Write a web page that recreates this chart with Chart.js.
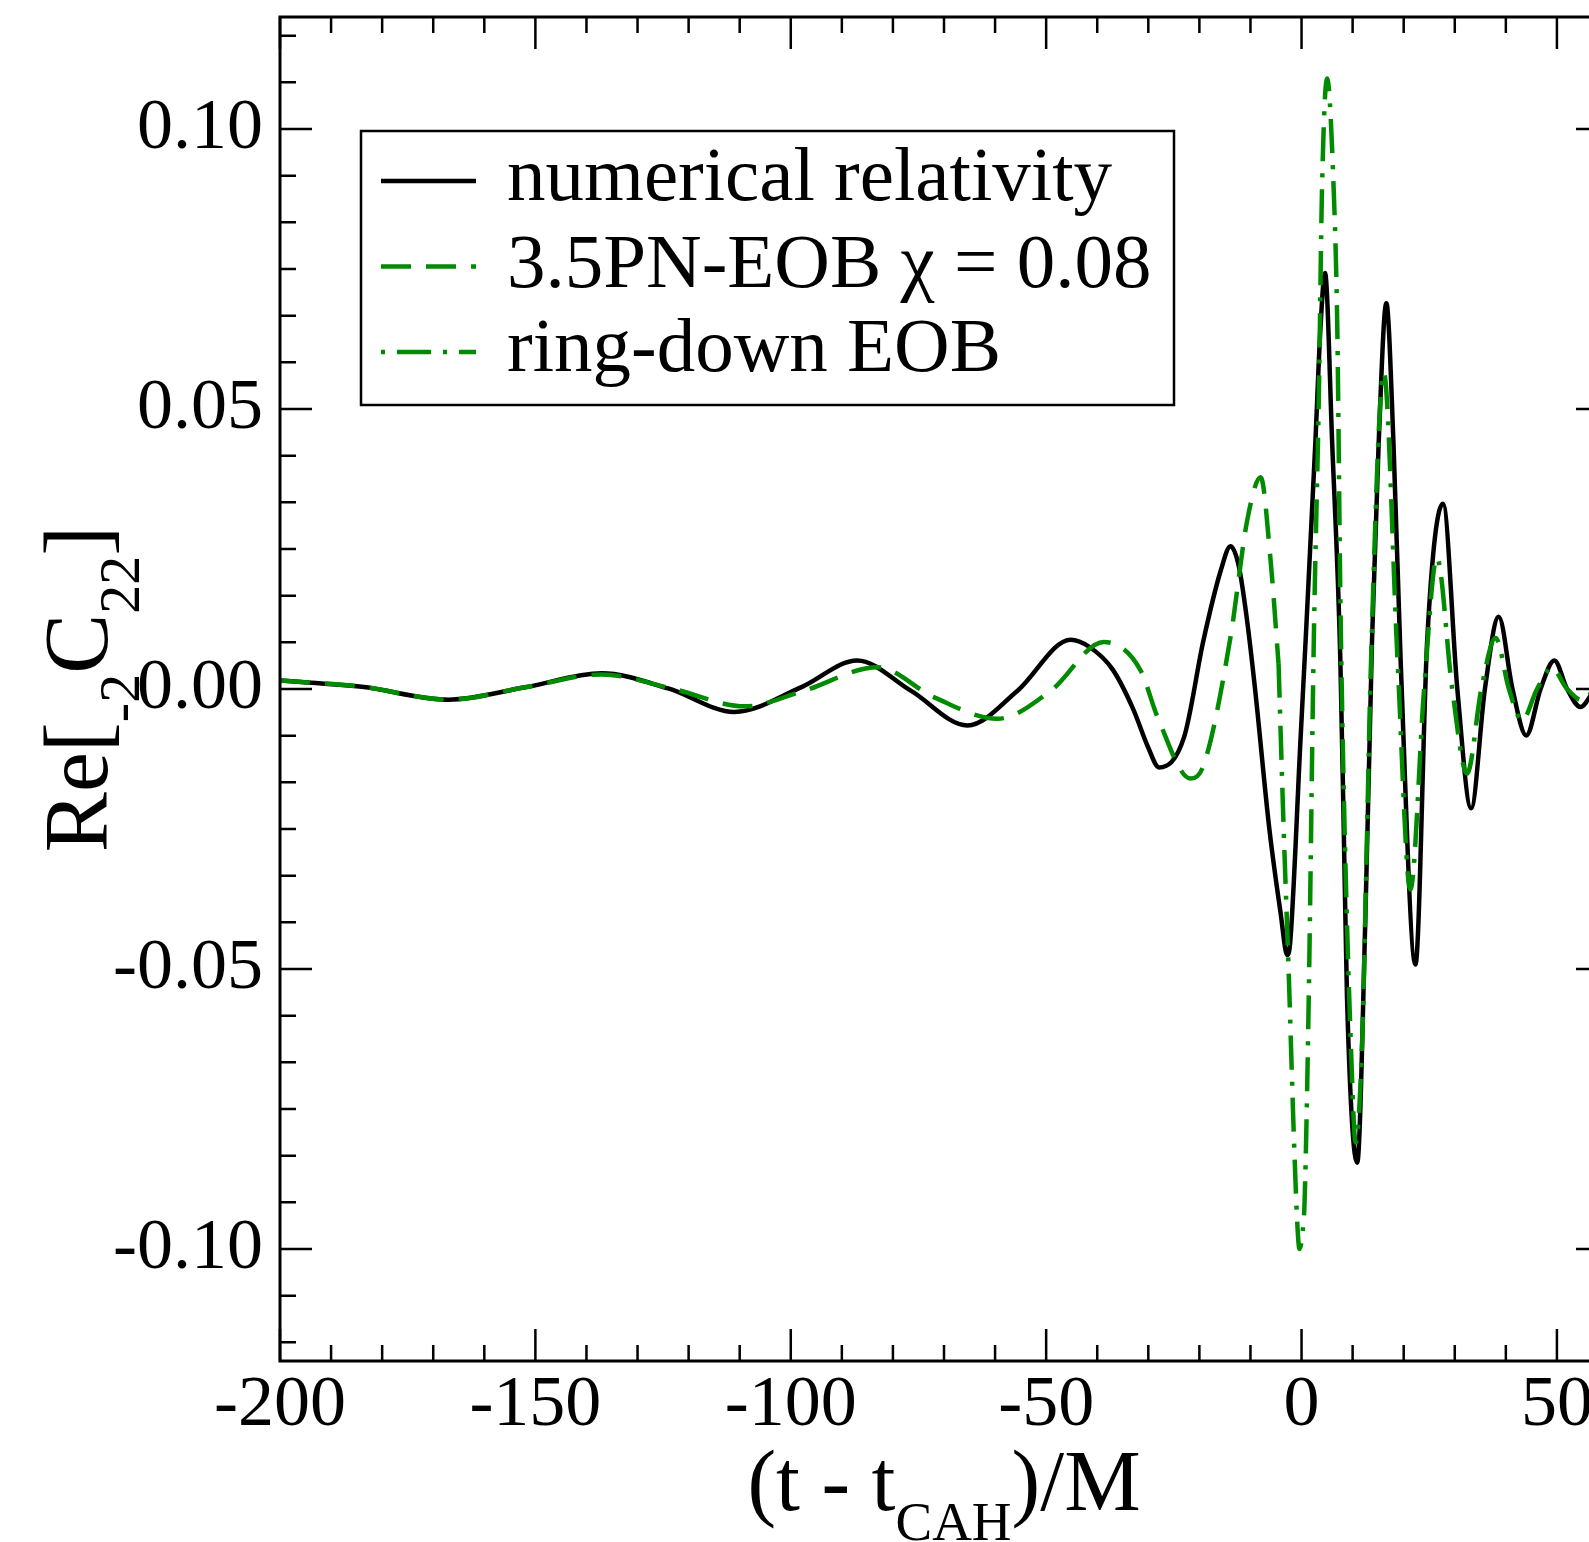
<!DOCTYPE html>
<html>
<head>
<meta charset="utf-8">
<script src="https://cdn.jsdelivr.net/npm/chart.js@4.4.0/dist/chart.umd.min.js"></script>
<style>
  html, body { margin: 0; padding: 0; background: #fff; overflow: hidden; }
  #wrap { position: absolute; left: 0; top: 0; width: 1620px; height: 1542px; }
</style>
</head>
<body>
<div id="wrap"><canvas id="myChart" width="1620" height="1542"></canvas></div>
<script>
// values

// numerical relativity (black, solid)
var nrT = [-200, -184, -167, -152, -137, -124, -111, -98, -87, -76.5, -65.4, -55.6, -45.2, -41.5, -37.0, -33.0, -30.0, -27.9, -23.0, -19.2, -15.8, -13.9, -12.3, -10.7, -9.1, -6.3, -4.1, -2.8, -2.2, -0.2, 0.8, 2.7, 3.7, 4.6, 6.0, 7.6, 8.3, 8.9, 10.9, 12.5, 13.8, 15.1, 16.6, 18.0, 19.4, 22.3, 24.6, 27.7, 30.5, 33.2, 35.9, 38.6, 41.3, 44.0, 46.8, 49.5, 52.0, 54.6, 57.5, 60];
var nrV = [0.0015, 0.0004, -0.0019, 0.0003, 0.0028, 0.0001, -0.0041, 0.0003, 0.0051, -0.0003, -0.0065, -0.0003, 0.0088, 0.0075, 0.0035, -0.0035, -0.0105, -0.0140, -0.0086, 0.0087, 0.0212, 0.0255, 0.0220, 0.0125, 0.0, -0.0250, -0.0400, -0.0475, -0.0450, -0.0090, 0.0087, 0.0439, 0.0644, 0.0743, 0.0439, 0.0051, -0.0267, -0.0550, -0.0846, -0.0408, 0.0087, 0.0439, 0.0689, 0.0439, 0.0051, -0.0492, 0.0087, 0.0331, 0.0, -0.0213, 0.0, 0.0129, 0.0, -0.0083, 0.0, 0.0051, 0.0, -0.0032, 0.0, 0.0020];

// 3.5PN-EOB (green, dashed)
var eobT = [-200, -184, -167, -152, -137, -123, -109, -97.4, -83.0, -71.9, -59.5, -49.1, -38.7, -31.5, -28.2, -21.7, -19.1, -13.9, -10.6, -8.0, -6.1, -4.5];
var eobV = [0.0015, 0.0004, -0.0019, 0.0003, 0.0026, 0.0, -0.0031, -0.0003, 0.0039, -0.0015, -0.0053, -0.0003, 0.0084, 0.0033, -0.0050, -0.0160, -0.0134, 0.0093, 0.0303, 0.0378, 0.0234, 0.0045];

// ring-down EOB (green, dash-dot)
var rdT = [-4.5, -3.5, -2.5, -1.5, -0.8, -0.4, 0.2, 0.6, 1.4, 2.4, 3.4, 4.0, 5.0, 6.3, 7.0, 7.6, 8.3, 9.6, 10.6, 11.9, 12.8, 13.5, 16.1, 18.8, 21.3, 24.0, 26.5, 29.5, 32.4, 35.2, 38.0, 40.6, 43.2, 46.1, 49.0, 52.0, 54.9, 57.5, 60];
var rdV = [0.0045, -0.0250, -0.0510, -0.0800, -0.0960, -0.1000, -0.0970, -0.0914, -0.0557, 0.0087, 0.0530, 0.0890, 0.1090, 0.0890, 0.0644, 0.0165, -0.0196, -0.0620, -0.0810, -0.0620, -0.0267, 0.0016, 0.0565, 0.0050, -0.0358, 0.0, 0.0234, 0.0, -0.0151, 0.0, 0.0091, 0.0, -0.0056, 0.0, 0.0037, 0.0, -0.0020, 0.0, 0.0012];

var seriesLabels = ["numerical relativity", "3.5PN-EOB \u03c7 = 0.08", "ring-down EOB"];
var xTicks = [-200, -150, -100, -50, 0, 50];
var yTicks = [-0.10, -0.05, 0.00, 0.05, 0.10];

var green = "rgb(0,139,0)";
var serif = '"Liberation Serif", "Times New Roman", serif';

function pts(t, v) {
  return t.map(function (x, i) { return { x: x, y: v[i] }; });
}

// box + inward ticks on all four sides
var framePlugin = {
  id: 'frame',
  afterDraw: function (chart) {
    var ctx = chart.ctx, a = chart.chartArea;
    var xs = chart.scales.x, ys = chart.scales.y;
    ctx.save();
    ctx.strokeStyle = '#000';
    ctx.lineWidth = 3;
    ctx.strokeRect(a.left, a.top, a.right - a.left, a.bottom - a.top);
    ctx.lineWidth = 2.5;
    ctx.beginPath();
    for (var k = -20; k <= 6; k++) {
      var v = k * 10;
      var p = xs.getPixelForValue(v);
      var len = (v % 50 === 0) ? 32 : 16;
      ctx.moveTo(p, a.bottom); ctx.lineTo(p, a.bottom - len);
      ctx.moveTo(p, a.top); ctx.lineTo(p, a.top + len);
    }
    for (var j = -14; j <= 14; j++) {
      var yv = j * 0.05 / 6;
      var py = ys.getPixelForValue(yv);
      var ylen = (j % 6 === 0) ? 32 : 16;
      ctx.moveTo(a.left, py); ctx.lineTo(a.left + ylen, py);
      ctx.moveTo(a.right, py); ctx.lineTo(a.right - ylen, py);
    }
    ctx.stroke();
    ctx.restore();
  }
};

// legend box inside the plot
var legendPlugin = {
  id: 'boxLegend',
  afterDraw: function (chart) {
    var ctx = chart.ctx;
    var rows = [181, 266.5, 352];
    var bases = [200, 287, 371];
    var offsets = [0, 0, 46];
    ctx.save();
    ctx.fillStyle = '#fff';
    ctx.fillRect(361, 131, 813, 274);
    ctx.strokeStyle = '#000';
    ctx.lineWidth = 2.5;
    ctx.strokeRect(361, 131, 813, 274);
    chart.data.datasets.forEach(function (ds, i) {
      ctx.beginPath();
      ctx.strokeStyle = ds.borderColor;
      ctx.lineWidth = ds.borderWidth;
      ctx.setLineDash(ds.borderDash || []);
      ctx.lineDashOffset = offsets[i];
      ctx.moveTo(381, rows[i]);
      ctx.lineTo(476, rows[i]);
      ctx.stroke();
      ctx.setLineDash([]);
      ctx.fillStyle = '#000';
      ctx.font = '77px ' + serif;
      ctx.textBaseline = 'alphabetic';
      ctx.textAlign = 'left';
      ctx.fillText(ds.label, 507, bases[i]);
    });
    ctx.restore();
  }
};

// axis titles with subscripts
function drawParts(ctx, parts, x, y) {
  var total = 0;
  parts.forEach(function (p) {
    ctx.font = p.size + 'px ' + serif;
    p.w = ctx.measureText(p.text).width;
    total += p.w;
  });
  var cx = x - total / 2;
  parts.forEach(function (p) {
    ctx.font = p.size + 'px ' + serif;
    ctx.fillText(p.text, cx, y + p.dy);
    cx += p.w;
  });
}

var titlePlugin = {
  id: 'axisTitles',
  afterDraw: function (chart) {
    var ctx = chart.ctx, a = chart.chartArea;
    ctx.save();
    ctx.fillStyle = '#000';
    ctx.textBaseline = 'alphabetic';
    ctx.textAlign = 'left';
    drawParts(ctx, [
      { text: '(t - t', size: 86, dy: 0 },
      { text: 'CAH', size: 55, dy: 30 },
      { text: ')/M', size: 86, dy: 0 }
    ], (a.left + a.right) / 2, 1510);
    ctx.translate(107, (a.top + a.bottom) / 2);
    ctx.rotate(-Math.PI / 2);
    drawParts(ctx, [
      { text: 'Re[', size: 90, dy: 0 },
      { text: '-2', size: 58, dy: 32 },
      { text: 'C', size: 90, dy: 0 },
      { text: '22', size: 58, dy: 32 },
      { text: ']', size: 90, dy: 0 }
    ], 0, 0);
    ctx.restore();
  }
};

function draw() {
  new Chart(document.getElementById('myChart'), {
    type: 'line',
    data: {
      datasets: [{
        label: seriesLabels[0],
        data: pts(nrT, nrV),
        borderColor: '#000',
        borderWidth: 4.5,
        order: 3
      }, {
        label: seriesLabels[1],
        data: pts(eobT, eobV),
        borderColor: green,
        borderWidth: 4.5,
        borderDash: [30, 15],
        order: 2
      }, {
        label: seriesLabels[2],
        data: pts(rdT, rdV),
        borderColor: green,
        borderWidth: 4.5,
        borderDash: [34, 12, 4, 12],
        order: 1
      }]
    },
    options: {
      responsive: false,
      animation: false,
      devicePixelRatio: 1,
      layout: { padding: { top: 17, right: 12, left: 0, bottom: 0 } },
      elements: {
        point: { radius: 0 },
        line: { cubicInterpolationMode: 'monotone', fill: false }
      },
      plugins: { legend: { display: false }, tooltip: { enabled: false } },
      scales: {
        x: {
          type: 'linear', min: -200, max: 60,
          grid: { display: false, drawTicks: false },
          border: { display: false },
          ticks: {
            color: '#000', padding: 2, maxRotation: 0, autoSkip: false,
            font: { family: serif, size: 72 },
            callback: function (v) { return String(v); }
          },
          afterBuildTicks: function (s) { s.ticks = xTicks.map(function (v) { return { value: v }; }); },
          afterFit: function (s) { s.height = 181; s.paddingLeft = 0; s.paddingRight = 0; }
        },
        y: {
          type: 'linear', min: -0.12, max: 0.12,
          grid: { display: false, drawTicks: false },
          border: { display: false },
          ticks: {
            color: '#000', padding: 17, autoSkip: false,
            font: { family: serif, size: 72 },
            callback: function (v) { return Math.abs(v) < 1e-9 ? '0.00' : v.toFixed(2); }
          },
          afterBuildTicks: function (s) { s.ticks = yTicks.map(function (v) { return { value: v }; }); },
          afterFit: function (s) { s.width = 280; s.paddingTop = 0; s.paddingBottom = 0; }
        }
      }
    },
    plugins: [framePlugin, legendPlugin, titlePlugin]
  });
}

document.fonts.load('72px "Liberation Serif"').then(draw, draw);
</script>
</body>
</html>
